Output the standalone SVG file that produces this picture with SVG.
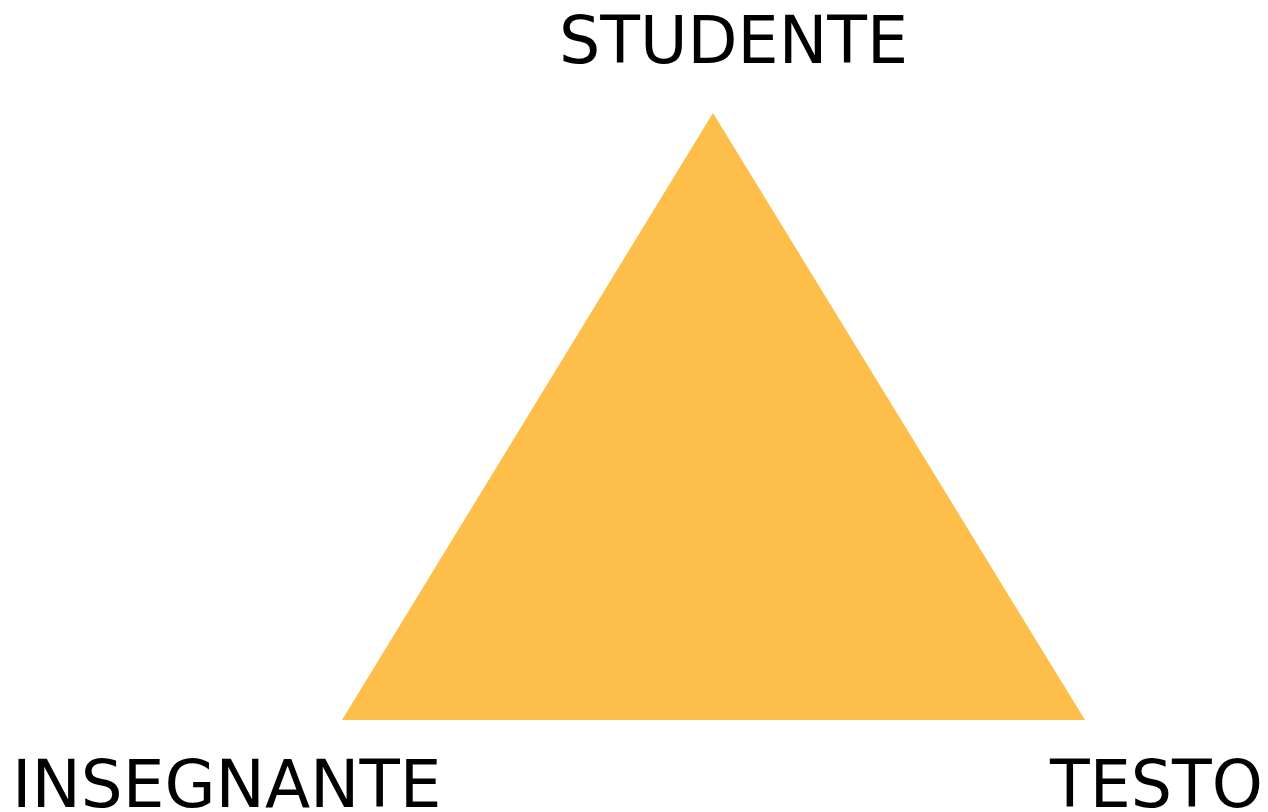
<svg xmlns="http://www.w3.org/2000/svg" width="1268" height="812" viewBox="0 0 1268 812">
<style>
.lbl{font-family:"DejaVu Sans","Liberation Sans",sans-serif;font-size:65px;fill:#000}
</style>
<rect width="1268" height="812" fill="#fff"/>
<g id="triangle"><polygon points="713,113 342,720 1085,720" fill="#FDBE4A"/></g>
<g id="studente"><text class="lbl" x="559" y="63">STUDENTE</text></g>
<g id="insegnante"><text class="lbl" x="12" y="807" style="font-size:66px">INSEGNANTE</text></g>
<g id="testo"><text class="lbl" x="1050" y="807">TESTO</text></g>
<g id="connectors"></g>
</svg>
